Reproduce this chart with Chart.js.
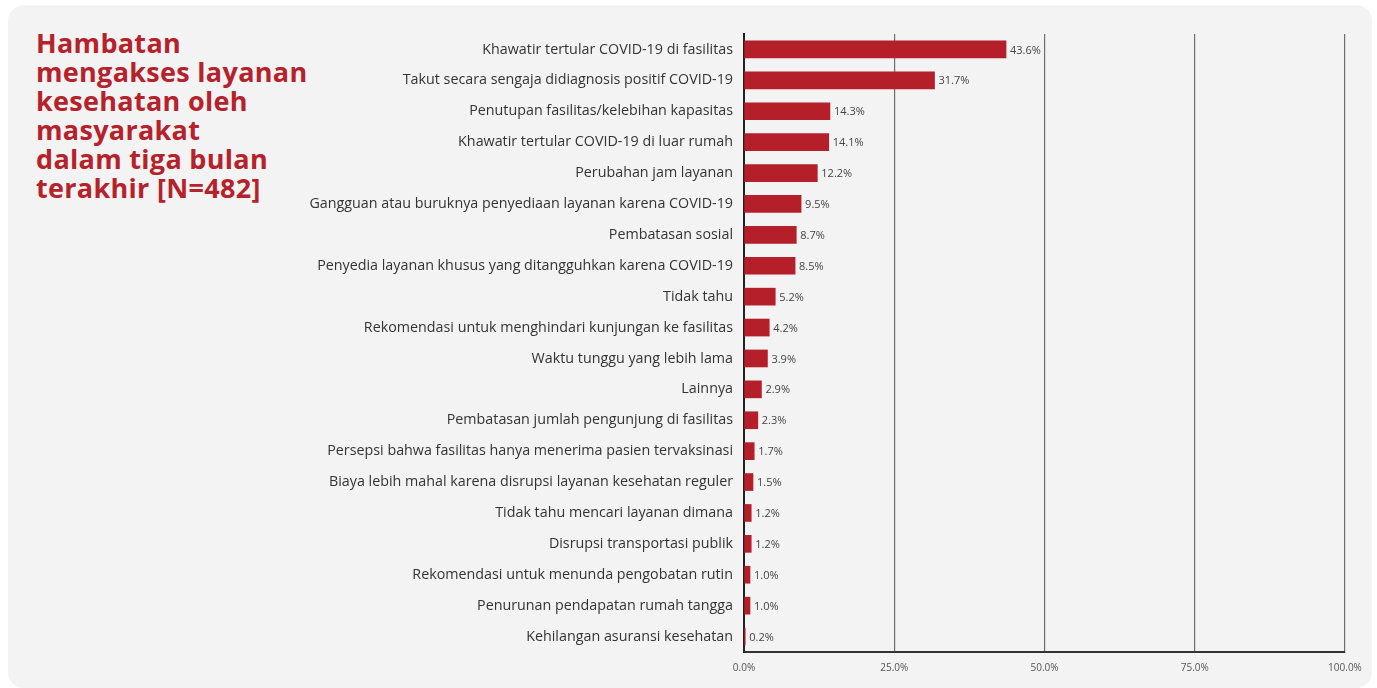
<!DOCTYPE html>
<html>
<head>
<meta charset="utf-8">
<script src="https://cdn.jsdelivr.net/npm/chart.js@4.4.0/dist/chart.umd.min.js"></script>
<style>
  html, body { margin: 0; padding: 0; background: #ffffff; }
  body { width: 1377px; height: 688px; position: relative; overflow: hidden; font-family: "Open Sans", sans-serif; }
  .card { position: absolute; left: 8px; top: 5px; width: 1364px; height: 683px; background: #f3f3f3; border-radius: 16px; }
  .title { position: absolute; left: 36px; top: 28px; color: #b5222b; font-weight: 700; font-size: 27px; line-height: 29px; letter-spacing: 0.3px; }
  #wrap { position: absolute; left: 0; top: 0; width: 1377px; height: 688px; }
</style>
</head>
<body>
<div class="card"></div>
<div class="title">Hambatan<br>mengakses layanan<br>kesehatan oleh<br>masyarakat<br>dalam tiga bulan<br>terakhir [N=482]</div>
<div id="wrap"><canvas id="barChart"></canvas></div>
<script>
// categories and percentages
let labels = [
    "Khawatir tertular COVID-19 di fasilitas",
    "Takut secara sengaja didiagnosis positif COVID-19",
    "Penutupan fasilitas/kelebihan kapasitas",
    "Khawatir tertular COVID-19 di luar rumah",
    "Perubahan jam layanan",
    "Gangguan atau buruknya penyediaan layanan karena COVID-19",
    "Pembatasan sosial",
    "Penyedia layanan khusus yang ditangguhkan karena COVID-19",
    "Tidak tahu",
    "Rekomendasi untuk menghindari kunjungan ke fasilitas",
    "Waktu tunggu yang lebih lama",
    "Lainnya",
    "Pembatasan jumlah pengunjung di fasilitas",
    "Persepsi bahwa fasilitas hanya menerima pasien tervaksinasi",
    "Biaya lebih mahal karena disrupsi layanan kesehatan reguler",
    "Tidak tahu mencari layanan dimana",
    "Disrupsi transportasi publik",
    "Rekomendasi untuk menunda pengobatan rutin",
    "Penurunan pendapatan rumah tangga",
    "Kehilangan asuransi kesehatan"
];
let values = [43.6, 31.7, 14.3, 14.1, 12.2, 9.5, 8.7, 8.5, 5.2, 4.2, 3.9, 2.9, 2.3, 1.7, 1.5, 1.2, 1.2, 1.0, 1.0, 0.2];
let xTicks = [0, 25, 50, 75, 100];

let ctx = document.querySelector("#barChart");

// value text to the right of each bar
const valueLabels = {
    id: "valueLabels",
    afterDatasetsDraw(chart) {
        let c = chart.ctx;
        let meta = chart.getDatasetMeta(0);
        c.save();
        c.font = "11px 'Open Sans'";
        c.fillStyle = "#444";
        c.textBaseline = "middle";
        meta.data.forEach((bar, i) => {
            c.fillText(values[i].toFixed(1) + "%", bar.x + 4, bar.y + 1);
        });
        c.restore();
    }
};

new Chart(ctx, {
    type: "bar",
    data: {
        labels: labels,
        datasets: [{
            data: values,
            backgroundColor: "#b41f29",
            borderWidth: 0,
            barThickness: 17
        }]
    },
    plugins: [valueLabels],
    options: {
        indexAxis: "y",
        responsive: true,
        maintainAspectRatio: false,
        animation: false,
        layout: {
            padding: { top: 34, right: 32, bottom: 0, left: 0 }
        },
        plugins: {
            legend: { display: false },
            tooltip: { enabled: false }
        },
        scales: {
            x: {
                min: 0,
                max: 100,
                afterBuildTicks: (scale) => {
                    scale.ticks = xTicks.map(v => ({ value: v }));
                },
                afterFit: (scale) => { scale.height = 36; },
                ticks: {
                    padding: 10,
                    color: "#555",
                    font: { family: "Open Sans", size: 10 },
                    callback: (v) => v.toFixed(1) + "%"
                },
                grid: {
                    color: (g) => g.index === 0 ? "rgba(0,0,0,0)" : "#6e6e6e",
                    lineWidth: 1.2,
                    drawTicks: false
                },
                border: { display: true, color: "#333", width: 2 }
            },
            y: {
                afterFit: (scale) => { scale.width = 744; },
                ticks: {
                    padding: 11,
                    color: "#333",
                    font: { family: "Open Sans", size: 14.3 }
                },
                grid: { display: false, drawTicks: false },
                border: { display: true, color: "#222", width: 2 }
            }
        }
    }
});
</script>
</body>
</html>
